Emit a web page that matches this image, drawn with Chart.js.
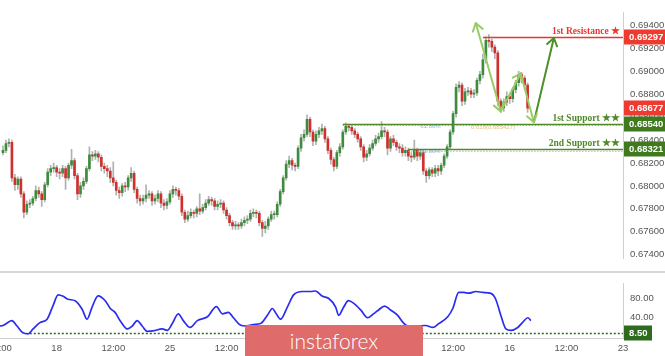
<!DOCTYPE html>
<html>
<head>
<meta charset="utf-8">
<script src="https://cdn.jsdelivr.net/npm/chart.js@4.4.0/dist/chart.umd.min.js"></script>
<style>
  html, body { margin: 0; padding: 0; background: #fff; }
  #wrap { position: relative; width: 665px; height: 356px; overflow: hidden; }
  #main { position: absolute; left: 0; top: 0; }
  #osc { position: absolute; left: 0; top: 271px; }
  #brand { position: absolute; left: 245px; top: 325px; width: 178px; height: 40px; background: #e06b6b;
           border-radius: 3px; color: #fff; font: 300 21px Lato, sans-serif; text-align: center; line-height: 31px; }
</style>
</head>
<body>
<div id="wrap">
  <canvas id="main" width="665" height="271"></canvas>
  <canvas id="osc" width="665" height="85"></canvas>
  <div id="brand">instaforex</div>
</div>
<script>
// candles (4h bars)
var opens = [
  0.6829,0.6831,0.6837,0.6838,0.6807,0.6801,0.6806,0.6793,0.6777,0.6784,
  0.6785,0.6789,0.6796,0.6793,0.6788,0.6801,0.6812,0.6815,0.6816,0.6812,
  0.6811,0.6815,0.6807,0.6818,0.6822,0.6809,0.6793,0.6800,0.6804,0.6815,
  0.6827,0.6826,0.6828,0.6825,0.6817,0.6815,0.6813,0.6807,0.6803,0.6796,
  0.6794,0.6800,0.6799,0.6807,0.6811,0.6797,0.6789,0.6787,0.6789,0.6792,
  0.6793,0.6787,0.6789,0.6793,0.6785,0.6783,0.6786,0.6793,0.6797,0.6796,
  0.6791,0.6777,0.6771,0.6774,0.6777,0.6776,0.6780,0.6778,0.6781,0.6785,
  0.6788,0.6787,0.6782,0.6784,0.6785,0.6779,0.6774,0.6768,0.6765,0.6766,
  0.6765,0.6768,0.6770,0.6771,0.6776,0.6777,0.6776,0.6768,0.6763,0.6765,
  0.6771,0.6775,0.6775,0.6784,0.6795,0.6807,0.6819,0.6822,0.6818,0.6817,
  0.6833,0.6842,0.6845,0.6858,0.6847,0.6839,0.6845,0.6848,0.6850,0.6841,
  0.6831,0.6823,0.6817,0.6829,0.6834,0.6847,0.6852,0.6851,0.6848,0.6845,
  0.6841,0.6834,0.6825,0.6828,0.6833,0.6837,0.6841,0.6843,0.6848,0.6847,
  0.6833,0.6841,0.6838,0.6834,0.6833,0.6829,0.6831,0.6826,0.6825,0.6831,
  0.6826,0.6829,0.6813,0.6809,0.6814,0.6811,0.6815,0.6813,0.6818,0.6826,
  0.6834,0.6847,0.6863,0.6886,0.6888,0.6874,0.6882,0.6883,0.6880,0.6881,
  0.6892,0.6897,0.6910,0.6927,0.6926,0.6921,0.6916,0.6874,0.6868,0.6873,
  0.6878,0.6876,0.6884,0.6890,0.6897,0.6894,0.6888
];
var closes = [
  0.6831,0.6837,0.6838,0.6807,0.6801,0.6806,0.6793,0.6777,0.6784,0.6785,
  0.6789,0.6796,0.6793,0.6788,0.6801,0.6812,0.6815,0.6816,0.6812,0.6811,
  0.6815,0.6807,0.6818,0.6822,0.6809,0.6793,0.6800,0.6804,0.6815,0.6827,
  0.6826,0.6828,0.6825,0.6817,0.6815,0.6813,0.6807,0.6803,0.6796,0.6794,
  0.6800,0.6799,0.6807,0.6811,0.6797,0.6789,0.6787,0.6789,0.6792,0.6793,
  0.6787,0.6789,0.6793,0.6785,0.6783,0.6786,0.6793,0.6797,0.6796,0.6791,
  0.6777,0.6771,0.6774,0.6777,0.6776,0.6780,0.6778,0.6781,0.6785,0.6788,
  0.6787,0.6782,0.6784,0.6785,0.6779,0.6774,0.6768,0.6765,0.6766,0.6765,
  0.6768,0.6770,0.6771,0.6776,0.6777,0.6776,0.6768,0.6763,0.6765,0.6771,
  0.6775,0.6775,0.6784,0.6795,0.6807,0.6819,0.6822,0.6818,0.6817,0.6833,
  0.6842,0.6845,0.6858,0.6847,0.6839,0.6845,0.6848,0.6850,0.6841,0.6831,
  0.6823,0.6817,0.6829,0.6834,0.6847,0.6852,0.6851,0.6848,0.6845,0.6841,
  0.6834,0.6825,0.6828,0.6833,0.6837,0.6841,0.6843,0.6848,0.6847,0.6833,
  0.6841,0.6838,0.6834,0.6833,0.6829,0.6831,0.6826,0.6825,0.6831,0.6826,
  0.6829,0.6813,0.6809,0.6814,0.6811,0.6815,0.6813,0.6818,0.6826,0.6834,
  0.6847,0.6863,0.6886,0.6888,0.6874,0.6882,0.6883,0.6880,0.6881,0.6892,
  0.6897,0.6910,0.6927,0.6926,0.6921,0.6916,0.6874,0.6868,0.6873,0.6878,
  0.6876,0.6884,0.6890,0.6897,0.6894,0.6888,0.68677
];
var highs = [
  0.6835,0.6840,0.6841,0.6840,0.6810,0.6808,0.6808,0.6795,0.6787,0.6788,
  0.6791,0.6800,0.6799,0.6795,0.6803,0.6815,0.6818,0.6820,0.6818,0.6815,
  0.6818,0.6817,0.6820,0.6832,0.6824,0.6811,0.6803,0.6807,0.6817,0.6834,
  0.6830,0.6831,0.6830,0.6827,0.6820,0.6818,0.6816,0.6821,0.6805,0.6799,
  0.6802,0.6803,0.6809,0.6816,0.6813,0.6799,0.6792,0.6792,0.6801,0.6796,
  0.6795,0.6792,0.6796,0.6795,0.6788,0.6789,0.6796,0.6800,0.6799,0.6798,
  0.6793,0.6779,0.6778,0.6780,0.6779,0.6782,0.6793,0.6784,0.6788,0.6791,
  0.6790,0.6789,0.6787,0.6788,0.6787,0.6781,0.6776,0.6770,0.6769,0.6768,
  0.6771,0.6773,0.6774,0.6779,0.6780,0.6779,0.6778,0.6770,0.6769,0.6773,
  0.6778,0.6778,0.6786,0.6797,0.6809,0.6822,0.6826,0.6824,0.6820,0.6835,
  0.6845,0.6849,0.6862,0.6860,0.6849,0.6848,0.6851,0.6854,0.6852,0.6843,
  0.6833,0.6825,0.6831,0.6837,0.6849,0.6855,0.6854,0.6853,0.6850,0.6847,
  0.6843,0.6836,0.6831,0.6836,0.6840,0.6844,0.6846,0.6856,0.6851,0.6849,
  0.6843,0.6844,0.6840,0.6837,0.6836,0.6834,0.6833,0.6829,0.6840,0.6833,
  0.6832,0.6831,0.6815,0.6816,0.6816,0.6818,0.6818,0.6820,0.6828,0.6836,
  0.6849,0.6865,0.6889,0.6891,0.6890,0.6885,0.6886,0.6885,0.6884,0.6894,
  0.6900,0.6915,0.6930,0.6932,0.6928,0.6923,0.6918,0.6876,0.6876,0.6882,
  0.6881,0.6886,0.6892,0.6900,0.6899,0.6896,0.6890
];
var lows = [
  0.6827,0.6829,0.6834,0.6804,0.6796,0.6797,0.6790,0.6772,0.6775,0.6781,
  0.6783,0.6787,0.6790,0.6782,0.6786,0.6799,0.6809,0.6812,0.6808,0.6806,
  0.6808,0.6797,0.6805,0.6815,0.6806,0.6788,0.6790,0.6797,0.6802,0.6813,
  0.6822,0.6823,0.6821,0.6813,0.6811,0.6808,0.6803,0.6800,0.6792,0.6789,
  0.6791,0.6795,0.6796,0.6804,0.6794,0.6785,0.6783,0.6784,0.6786,0.6789,
  0.6783,0.6784,0.6786,0.6781,0.6779,0.6780,0.6784,0.6790,0.6792,0.6788,
  0.6774,0.6768,0.6769,0.6772,0.6772,0.6773,0.6775,0.6776,0.6779,0.6783,
  0.6783,0.6779,0.6779,0.6781,0.6776,0.6771,0.6765,0.6762,0.6762,0.6762,
  0.6763,0.6765,0.6767,0.6769,0.6773,0.6772,0.6765,0.6756,0.6759,0.6762,
  0.6769,0.6771,0.6773,0.6782,0.6793,0.6805,0.6816,0.6814,0.6813,0.6815,
  0.6830,0.6839,0.6843,0.6843,0.6835,0.6836,0.6842,0.6845,0.6838,0.6828,
  0.6819,0.6813,0.6815,0.6826,0.6832,0.6845,0.6848,0.6845,0.6842,0.6838,
  0.6831,0.6821,0.6822,0.6826,0.6831,0.6835,0.6838,0.6841,0.6843,0.6827,
  0.6830,0.6835,0.6831,0.6829,0.6826,0.6826,0.6822,0.6821,0.6823,0.6822,
  0.6823,0.6810,0.6803,0.6806,0.6808,0.6808,0.6809,0.6810,0.6816,0.6824,
  0.6832,0.6845,0.6860,0.6882,0.6870,0.6871,0.6879,0.6877,0.6877,0.6879,
  0.6889,0.6894,0.6907,0.6921,0.6917,0.6911,0.6870,0.6864,0.6865,0.6870,
  0.6872,0.6873,0.6881,0.6887,0.6890,0.6884,0.6864
];
var firstSlot = 1;      // slot of the first candle
var slotCount = 210;    // candles + empty space on the right

var yTicks = [0.674, 0.676, 0.678, 0.680, 0.682, 0.684, 0.686, 0.688, 0.690, 0.692, 0.694];
var xTickSlots = [0, 19, 38, 57, 76, 95, 114, 133, 152, 171, 190, 209];
var xTickLabels = ['12:00', '18', '12:00', '25', '12:00', 'Jul', '12:00', '9', '12:00', '16', '12:00', '23'];

// support / resistance
var levelNames = ['1st Resistance \u2605', '1st Support \u2605\u2605', '2nd Support \u2605\u2605'];
var levelValues = [0.69297, 0.68540, 0.68321];
var levelStart = [162, 115, 137];
var levelColors = ['#e8372e', '#4f8a26', '#4f8a26'];
var levelBoxColors = ['#ee3b31', '#3f7a1f', '#3f7a1f'];
var fibValues = [0.68527, 0.68307];
var fibStart = [115, 137];

// arrow path (slot, price)
var pathSlots = [159.6, 168, 174.7, 179.1, 185.8];
var pathPrices = [0.6942, 0.6865, 0.6898, 0.68556, 0.6929];

// oscillator
var oscSlots = [0, 1, 4, 5.7, 7.7, 9.4, 11.1, 13.4, 15.8, 17.8, 19.5, 21.2, 22.8, 25.2, 27.6, 29.2, 30.9, 32.9, 35.3, 37,
  38.6, 40.3, 42.7, 44.4, 46, 47.7, 49.4, 51.4, 54.4, 56.1, 57.8, 59.8, 61.5, 63.8, 66.2, 69.6, 72.6, 74.6, 76.6, 78.3,
  80.6, 82.3, 85, 87.4, 89.7, 91.4, 92.4, 94.1, 96.4, 98.5, 101.5, 104.2, 105.8, 108.2, 110.2, 112.6, 113.6, 115.3, 116.9, 118.6,
  121, 123.3, 125.3, 127, 129, 131, 133.4, 135.1, 136.8, 139.4, 142.8, 145.2, 147.2, 150.2, 151.9, 153.9, 155.6, 157.3, 159.6, 162,
  164.7, 166.3, 168, 169.7, 171.4, 173.7, 175.4, 177.1, 178.1];
var oscValues = [23, 24, 34, 23, 9, 7, 17, 30, 37, 65, 87, 84, 78, 75, 57, 37, 62, 85, 75, 59,
  51, 34, 17, 23, 34, 23, 12, 13, 17, 14, 28, 48, 34, 20, 34, 42, 63, 48, 51, 40,
  25, 23, 26, 28, 45, 59, 51, 37, 62, 87, 94, 94, 95, 84, 80, 62, 45, 62, 75, 70,
  56, 40, 48, 56, 64, 56, 45, 31, 23, 23, 24, 20, 28, 42, 59, 92, 92, 90.5, 94, 92,
  90, 78, 45, 17, 14, 20, 31, 40, 34];
var oscTicks = [40, 80];
var oscLevel = 8.5;
var oscLevelStart = 10;

var AXIS_W = 42;
var LABEL_FONT = '"Liberation Sans", Arial, sans-serif';

var labels = [];
var wickData = [];
var bodyData = [];
var bodyColors = [];
for (var i = 0; i < slotCount; i++) {
  labels.push(String(i));
  wickData.push(null);
  bodyData.push(null);
  bodyColors.push('#fff');
}
for (var k = 0; k < closes.length; k++) {
  var s = firstSlot + k;
  wickData[s] = [lows[k], highs[k]];
  bodyData[s] = [opens[k], closes[k]];
  bodyColors[s] = closes[k] >= opens[k] ? '#3d8b3d' : '#d0302c';
}

function drawChevron(ctx, x, y, fx, fy, color) {
  // arrow head at (x,y) pointing away from (fx,fy)
  var a = Math.atan2(y - fy, x - fx);
  var len = 9, spread = 0.6;
  ctx.strokeStyle = color;
  ctx.beginPath();
  ctx.moveTo(x - len * Math.cos(a - spread), y - len * Math.sin(a - spread));
  ctx.lineTo(x, y);
  ctx.lineTo(x - len * Math.cos(a + spread), y - len * Math.sin(a + spread));
  ctx.stroke();
}

function priceBox(ctx, area, y, text, color, w) {
  ctx.fillStyle = color;
  ctx.fillRect(area.right + 1, Math.round(y) - 7.5, w, 15);
  ctx.fillStyle = '#fff';
  ctx.font = 'bold 9.5px ' + LABEL_FONT;
  ctx.textAlign = 'left';
  ctx.textBaseline = 'middle';
  ctx.fillText(text, area.right + 6, Math.round(y) + 0.5);
}

var levelsPlugin = {
  id: 'levels',
  afterDatasetsDraw: function(chart) {
    var ctx = chart.ctx, xs = chart.scales.x, ys = chart.scales.y, area = chart.chartArea;
    ctx.save();
    // fib dotted lines
    ctx.strokeStyle = '#7eaee0';
    ctx.lineWidth = 1;
    ctx.setLineDash([1, 2]);
    fibValues.forEach(function(v, k) {
      var y = Math.round(ys.getPixelForValue(v)) + 0.5;
      ctx.beginPath();
      ctx.moveTo(xs.getPixelForValue(fibStart[k]), y);
      ctx.lineTo(area.right, y);
      ctx.stroke();
    });
    ctx.setLineDash([]);
    ctx.font = '6px ' + LABEL_FONT;
    ctx.fillStyle = '#8ab6e4';
    ctx.textAlign = 'left';
    ctx.textBaseline = 'middle';
    fibValues.forEach(function(v) {
      ctx.fillText('61.80%', xs.getPixelForValue(141), ys.getPixelForValue(v) + 1);
    });
    ctx.fillStyle = '#e3bf7a';
    ctx.fillText('0.618(0.685427)', xs.getPixelForValue(158), ys.getPixelForValue(fibValues[0]) + 2);

    // level lines and names
    levelValues.forEach(function(v, k) {
      var y = Math.round(ys.getPixelForValue(v)) + 0.5;
      ctx.strokeStyle = levelColors[k];
      ctx.lineWidth = 1.6;
      ctx.beginPath();
      ctx.moveTo(xs.getPixelForValue(levelStart[k]), y);
      ctx.lineTo(area.right, y);
      ctx.stroke();
      ctx.fillStyle = levelColors[k];
      ctx.font = 'bold 9.5px "Liberation Serif", "DejaVu Serif", serif';
      ctx.textAlign = 'right';
      ctx.textBaseline = 'bottom';
      ctx.fillText(levelNames[k], area.right - 3, y - 1);
    });

    // zig-zag arrows
    var px = pathSlots.map(function(v) { return xs.getPixelForValue(v); });
    var py = pathPrices.map(function(v) { return ys.getPixelForValue(v); });
    ctx.lineWidth = 2;
    ctx.lineCap = 'round';
    ctx.lineJoin = 'round';
    for (var j = 0; j < px.length - 1; j++) {
      ctx.strokeStyle = j < px.length - 2 ? '#9bcb68' : '#4a9128';
      ctx.beginPath();
      ctx.moveTo(px[j], py[j]);
      ctx.lineTo(px[j + 1], py[j + 1]);
      ctx.stroke();
    }
    drawChevron(ctx, px[0], py[0], px[1], py[1], '#9bcb68');
    for (var j = 1; j < px.length; j++) {
      drawChevron(ctx, px[j], py[j], px[j - 1], py[j - 1], j < px.length - 1 ? '#9bcb68' : '#4a9128');
    }
    ctx.restore();
  },
  afterDraw: function(chart) {
    var ctx = chart.ctx, ys = chart.scales.y, area = chart.chartArea;
    ctx.save();
    priceBox(ctx, area, ys.getPixelForValue(closes[closes.length - 1]), closes[closes.length - 1].toFixed(5), '#ee3b31', AXIS_W);
    levelValues.forEach(function(v, k) {
      priceBox(ctx, area, ys.getPixelForValue(v), v.toFixed(5), levelBoxColors[k], AXIS_W);
    });
    ctx.restore();
  }
};

new Chart(document.getElementById('main'), {
  type: 'bar',
  data: {
    labels: labels,
    datasets: [
      { data: wickData, backgroundColor: 'rgba(150,150,150,0.75)', barThickness: 1, grouped: false, order: 2 },
      { data: bodyData, backgroundColor: bodyColors, barThickness: 2, grouped: false, minBarLength: 1, order: 1 }
    ]
  },
  options: {
    responsive: false,
    animation: false,
    devicePixelRatio: 1,
    layout: { padding: 0 },
    plugins: { legend: { display: false }, tooltip: { enabled: false } },
    scales: {
      x: { display: false, offset: false },
      y: {
        position: 'right',
        min: 0.673684,
        max: 0.695107,
        grid: { display: false, drawTicks: false },
        border: { color: '#cfcfcf' },
        afterBuildTicks: function(scale) { scale.ticks = yTicks.map(function(v) { return { value: v }; }); },
        afterFit: function(scale) { scale.width = AXIS_W; },
        ticks: {
          color: '#555',
          padding: 7,
          font: { size: 9.5, family: LABEL_FONT },
          callback: function(v) { return v.toFixed(5); }
        }
      }
    }
  },
  plugins: [levelsPlugin]
});

var oscPlugin = {
  id: 'oscExtras',
  beforeDatasetsDraw: function(chart) {
    var ctx = chart.ctx, xs = chart.scales.x, ys = chart.scales.y, area = chart.chartArea;
    ctx.save();
    ctx.strokeStyle = '#d6d6d6';
    ctx.lineWidth = 2;
    ctx.beginPath();
    ctx.moveTo(0, 1);
    ctx.lineTo(chart.width, 1);
    ctx.stroke();
    var y = Math.round(ys.getPixelForValue(oscLevel)) + 0.5;
    ctx.strokeStyle = '#2d6a1c';
    ctx.lineWidth = 1.5;
    ctx.setLineDash([2, 2]);
    ctx.beginPath();
    ctx.moveTo(xs.getPixelForValue(oscLevelStart), y);
    ctx.lineTo(area.right, y);
    ctx.stroke();
    ctx.restore();
  },
  afterDraw: function(chart) {
    var ctx = chart.ctx, ys = chart.scales.y, area = chart.chartArea;
    ctx.save();
    priceBox(ctx, area, ys.getPixelForValue(oscLevel), oscLevel.toFixed(2), '#2f6b1e', 28);
    ctx.restore();
  }
};

new Chart(document.getElementById('osc'), {
  type: 'line',
  data: {
    datasets: [{
      data: oscSlots.map(function(s, k) { return { x: s, y: oscValues[k] }; }),
      borderColor: '#2a2cf0',
      borderWidth: 1.7,
      pointRadius: 0,
      cubicInterpolationMode: 'monotone',
      fill: false
    }]
  },
  options: {
    responsive: false,
    animation: false,
    devicePixelRatio: 1,
    layout: { padding: 0 },
    plugins: { legend: { display: false }, tooltip: { enabled: false } },
    scales: {
      x: {
        type: 'linear',
        min: 0,
        max: slotCount - 1,
        grid: { display: false, drawTicks: false },
        border: { color: '#cfcfcf' },
        afterBuildTicks: function(scale) { scale.ticks = xTickSlots.map(function(v) { return { value: v }; }); },
        afterFit: function(scale) {
          scale.height = 18;
          // let the edge labels run off the plot like the original
          scale.paddingLeft = 0;
          scale.paddingRight = 0;
        },
        ticks: {
          autoSkip: false,
          maxRotation: 0,
          color: '#555',
          padding: 5,
          font: { size: 9.5, family: LABEL_FONT },
          callback: function(v, i) { return xTickLabels[i]; }
        }
      },
      y: {
        position: 'right',
        min: -1.67,
        max: 110,
        grid: { display: false, drawTicks: false },
        border: { color: '#cfcfcf' },
        afterBuildTicks: function(scale) { scale.ticks = oscTicks.map(function(v) { return { value: v }; }); },
        afterFit: function(scale) { scale.width = AXIS_W; },
        ticks: {
          color: '#555',
          padding: 7,
          font: { size: 9.5, family: LABEL_FONT },
          callback: function(v) { return v.toFixed(2); }
        }
      }
    }
  },
  plugins: [oscPlugin]
});
</script>
</body>
</html>
